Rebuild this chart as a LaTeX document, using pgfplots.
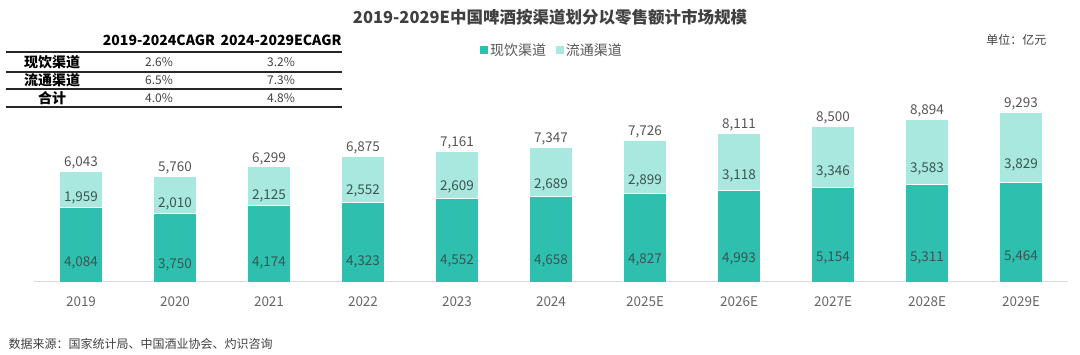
\documentclass[border=0pt]{standalone}
\usepackage{pgfplots}
\usepackage{pgfplotstable}
\pgfplotsset{compat=1.18}
\usepackage{fontspec}
\setmainfont{Noto Sans CJK SC}
\definecolor{dk}{HTML}{2EBFAF}
\definecolor{lt}{HTML}{A8E8DF}
\definecolor{txt}{HTML}{404040}
\definecolor{tick}{HTML}{666666}
\definecolor{inl}{HTML}{3A5552}
\definecolor{tot}{HTML}{555555}
\pgfplotstableread{
x v1 v2 t
0 4084 1959 6043
1 3750 2010 5760
2 4174 2125 6299
3 4323 2552 6875
4 4552 2609 7161
5 4658 2689 7347
6 4827 2899 7726
7 4993 3118 8111
8 5154 3346 8500
9 5311 3583 8894
10 5464 3829 9293
}\data
\newcommand\fs[1]{\fontsize{#1}{#1}\selectfont}
\pgfplotsset{common/.style={at={(81pt,73pt)}, anchor=origin, scale only axis, width=1034pt, height=183pt,
 xmin=-0.5, xmax=10.5, ymin=0, ymax=10000, clip=false,
 /pgf/number format/assume math mode=true}}
\begin{document}
\begin{tikzpicture}[x=1pt,y=1pt]
\begin{axis}[common,
 ybar stacked, bar width=43pt,
 axis x line*=bottom, axis y line=none,
 x axis line style={draw=black!15, line width=1pt, -},
 xtick=data, xticklabels={2019,2020,2021,2022,2023,2024,2025E,2026E,2027E,2028E,2029E},
 xtick style={draw=none},
 xticklabel style={font=\fs{13.5}, text=tick, anchor=center, yshift=-20pt},
 legend style={at={(0.501,1.268)}, anchor=center, draw=none, fill=none, legend columns=-1,
   font=\fs{14}, text=tot, /tikz/every even column/.append style={column sep=8pt}},
]
\addplot[fill=dk, draw=white, line width=0.8pt,
 legend image code/.code={\fill[dk] (0pt,-3.5pt) rectangle (7pt,3.5pt);},
 visualization depends on={rawy \as \rawv},
 point meta=explicit,
 nodes near coords={\pgfmathprintnumber[1000 sep={,}, fixed, precision=0]{\pgfplotspointmeta}},
 every node near coord/.append style={anchor=center, yshift=-\rawv*0.004575pt, font=\fs{13.5}, text=inl}
] table[x=x, y=v1, meta=v1] {\data};
\addplot[fill=lt, draw=white, line width=0.8pt,
 legend image code/.code={\fill[lt] (0pt,-3.5pt) rectangle (7pt,3.5pt);},
 visualization depends on={rawy \as \rawv},
 point meta=explicit,
 nodes near coords={\pgfmathprintnumber[1000 sep={,}, fixed, precision=0]{\pgfplotspointmeta}},
 every node near coord/.append style={anchor=center, yshift=-\rawv*0.004575pt, font=\fs{13.5}, text=inl}
] table[x=x, y=v2, meta=v2] {\data};
\legend{现饮渠道,流通渠道}
\end{axis}
\begin{axis}[common, hide axis]
\addplot[only marks, mark=none, point meta=explicit,
 nodes near coords={\pgfmathprintnumber[1000 sep={,}, fixed, precision=0]{\pgfplotspointmeta}},
 every node near coord/.append style={anchor=center, yshift=8.25pt, font=\fs{13.5}, text=tot}
] table[x=x, y=t, meta=t] {\data};
\end{axis}
% title and notes
\node[font=\bfseries\fs{16.5}, text=txt] at (550,338) {2019-2029E中国啤酒按渠道划分以零售额计市场规模};
\node[anchor=east, font=\fs{12}, text=txt] at (1050,315) {单位：亿元};
\node[anchor=west, font=\fs{12}, text=txt] at (5,11) {数据来源：国家统计局、中国酒业协会、灼识咨询};
% CAGR table
\node[font=\bfseries\fs{14}, text=black] at (159,315) {2019-2024CAGR};
\node[font=\bfseries\fs{14}, text=black] at (281,315) {2024-2029ECAGR};
\draw[line width=1.3pt, black!85] (6,303) -- (342,303);
\draw[line width=1.1pt, black!85] (6,283) -- (342,283);
\draw[line width=1.1pt, black!85] (6,266) -- (342,266);
\draw[line width=1.1pt, black!85] (6,248) -- (342,248);
\node[font=\bfseries\fs{14}, text=black] at (52,293) {现饮渠道};
\node[font=\bfseries\fs{14}, text=black] at (52,274.5) {流通渠道};
\node[font=\bfseries\fs{14}, text=black] at (52,257) {合计};
\node[font=\fs{12}, text=txt] at (159,293) {2.6\%};
\node[font=\fs{12}, text=txt] at (281,293) {3.2\%};
\node[font=\fs{12}, text=txt] at (159,274.5) {6.5\%};
\node[font=\fs{12}, text=txt] at (281,274.5) {7.3\%};
\node[font=\fs{12}, text=txt] at (159,257) {4.0\%};
\node[font=\fs{12}, text=txt] at (281,257) {4.8\%};
\pgfresetboundingbox
\path[use as bounding box] (0,0) rectangle (1080,355);
\end{tikzpicture}
\end{document}
